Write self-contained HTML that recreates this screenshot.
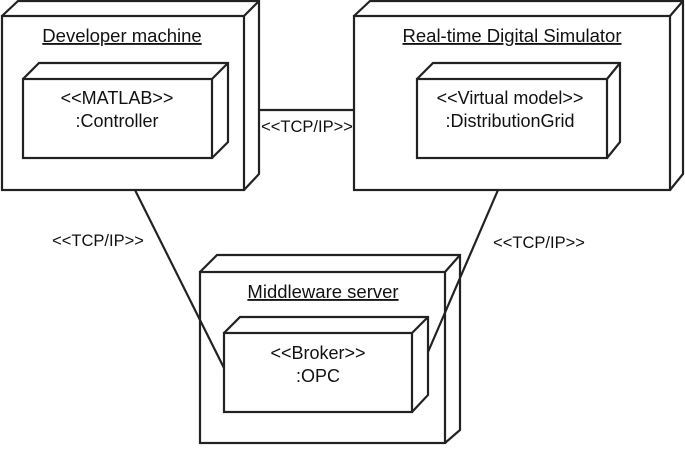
<!DOCTYPE html>
<html><head><meta charset="utf-8"><style>body{margin:0;background:#fff}</style></head><body>
<svg width="685" height="446" viewBox="0 0 685 446" xmlns="http://www.w3.org/2000/svg" font-family="Liberation Sans, sans-serif" fill="none" stroke="#222" stroke-width="2.2">
<!-- Developer machine -->
<path d="M2 16 L18 1 L259 1 L259 174 L244 190 M244 16 L259 1" />
<rect x="2" y="16" width="242" height="174"/>
<path d="M23 79 L39 63 L228 63 L228 142 L212 158 M212 79 L228 63"/>
<rect x="23" y="79" width="189" height="79"/>
<!-- RTDS -->
<path d="M354 16 L370 1 L683 1 L683 174 L670 190 M670 16 L683 1"/>
<rect x="354" y="16" width="316" height="174"/>
<path d="M417 79 L433 63 L620 63 L620 142 L607 158 M607 79 L620 63"/>
<rect x="417" y="79" width="190" height="79"/>
<!-- Middleware -->
<path d="M200 272 L217 255 L460 255 L460 430 L445 443 M445 272 L460 255"/>
<rect x="200" y="272" width="245" height="171"/>
<path d="M224 333 L240 317 L428 317 L428 395 L412 412 M412 333 L428 317"/>
<rect x="224" y="333" width="188" height="79"/>
<!-- connectors -->
<line x1="260" y1="110" x2="354" y2="110"/>
<line x1="135" y1="190" x2="224" y2="368"/>
<line x1="498" y1="190" x2="428" y2="352"/>
<g fill="#111" stroke="none" text-anchor="middle">
<text x="122" y="42" font-size="18.5" text-decoration="underline">Developer machine</text>
<text x="117" y="104" font-size="18">&lt;&lt;MATLAB&gt;&gt;</text>
<text x="117" y="127" font-size="18">:Controller</text>
<text x="512" y="42" font-size="18.5" text-decoration="underline">Real-time Digital Simulator</text>
<text x="510" y="104" font-size="18">&lt;&lt;Virtual model&gt;&gt;</text>
<text x="510" y="127" font-size="18">:DistributionGrid</text>
<text x="323" y="298" font-size="18.5" text-decoration="underline">Middleware server</text>
<text x="318" y="359" font-size="18">&lt;&lt;Broker&gt;&gt;</text>
<text x="318" y="382" font-size="18">:OPC</text>
<text x="307" y="132" font-size="16.5">&lt;&lt;TCP/IP&gt;&gt;</text>
<text x="98" y="246" font-size="16.5">&lt;&lt;TCP/IP&gt;&gt;</text>
<text x="539" y="248" font-size="16.5">&lt;&lt;TCP/IP&gt;&gt;</text>
</g>
</svg>
</body></html>
